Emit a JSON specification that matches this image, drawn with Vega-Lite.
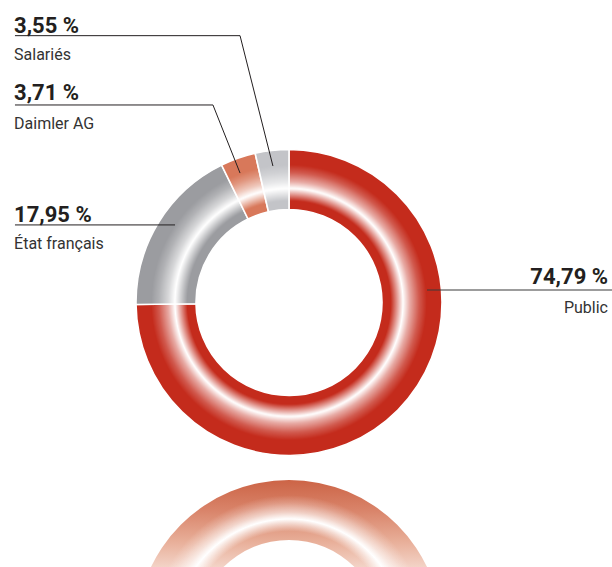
{
  "$schema": "https://vega.github.io/schema/vega-lite/v6.json",
  "width": 612,
  "height": 567,
  "padding": 0,
  "autosize": {"type": "none"},
  "config": {
    "view": {"stroke": null},
    "text": {"font": "Roboto"},
    "locale": {"number": {"decimal": ",", "thousands": "\u00a0", "grouping": [3], "currency": ["", "\u00a0€"], "percent": "\u00a0%"}}
  },
  "data": {"values": [
    {"label": "Public", "share": 0.7479},
    {"label": "État français", "share": 0.1795},
    {"label": "Daimler AG", "share": 0.0371},
    {"label": "Salariés", "share": 0.0355}
  ]},
  "layer": [
    {
      "mark": {"type": "arc", "outerRadius": 153, "innerRadius": 93, "stroke": "white", "strokeWidth": 1.6},
      "encoding": {
        "x": {"datum": 0, "type": "quantitative", "scale": {"domain": [-1.8889, 2.1111], "nice": false, "zero": false}, "axis": null},
        "y": {"datum": 0, "type": "quantitative", "scale": {"domain": [-1.7288, 1.9771], "nice": false, "zero": false}, "axis": null},
        "theta": {"field": "share", "type": "quantitative", "stack": true},
        "order": {"field": "share", "sort": "descending"},
        "color": {"field": "label", "type": "nominal", "legend": null,
          "scale": {"domain": ["Public", "État français", "Daimler AG", "Salariés"], "range": ["#c42b1c", "#9b9ca0", "#d8785a", "#c3c4c8"]}}
      }
    },
    {
      "mark": {"type": "arc", "outerRadius": 153, "innerRadius": 93,
        "fill": {"gradient": "radial", "x1": 0.5, "y1": 0.5, "r1": 0, "x2": 0.5, "y2": 0.5, "r2": 0.5,
          "stops": [
            {"offset": 0, "color": "rgba(255,255,255,0)"},
            {"offset": 0.665, "color": "rgba(255,255,255,0)"},
            {"offset": 0.745, "color": "rgba(255,255,255,1)"},
            {"offset": 0.79, "color": "rgba(255,255,255,0.6)"},
            {"offset": 0.85, "color": "rgba(255,255,255,0.22)"},
            {"offset": 0.9, "color": "rgba(255,255,255,0)"},
            {"offset": 1, "color": "rgba(255,255,255,0)"}
          ]}},
      "encoding": {
        "x": {"datum": 0, "type": "quantitative", "scale": {"domain": [-1.8889, 2.1111], "nice": false, "zero": false}, "axis": null},
        "y": {"datum": 0, "type": "quantitative", "scale": {"domain": [-1.7288, 1.9771], "nice": false, "zero": false}, "axis": null},
        "theta": {"aggregate": "sum", "field": "share", "type": "quantitative"}
      }
    },
    {
      "mark": {"type": "arc", "outerRadius": 153, "innerRadius": 93,
        "fill": {"gradient": "linear", "x1": 0, "y1": 0, "x2": 0, "y2": 1,
          "stops": [
            {"offset": 0, "color": "#cc6446"},
            {"offset": 0.1, "color": "#d9846a"},
            {"offset": 0.2, "color": "#e8ae98"},
            {"offset": 0.3, "color": "#f5dacf"},
            {"offset": 0.45, "color": "#ffffff"},
            {"offset": 1, "color": "#ffffff"}
          ]}},
      "encoding": {
        "x": {"datum": 0, "type": "quantitative", "scale": {"domain": [-1.8889, 2.1111], "nice": false, "zero": false}, "axis": null},
        "y": {"datum": -2.16, "type": "quantitative", "scale": {"domain": [-1.7288, 1.9771], "nice": false, "zero": false}, "axis": null},
        "theta": {"aggregate": "sum", "field": "share", "type": "quantitative"}
      }
    },
    {
      "mark": {"type": "arc", "outerRadius": 153, "innerRadius": 93,
        "fill": {"gradient": "radial", "x1": 0.5, "y1": 0.5, "r1": 0, "x2": 0.5, "y2": 0.5, "r2": 0.5,
          "stops": [
            {"offset": 0, "color": "rgba(255,255,255,0)"},
            {"offset": 0.665, "color": "rgba(255,255,255,0)"},
            {"offset": 0.745, "color": "rgba(255,255,255,1)"},
            {"offset": 0.79, "color": "rgba(255,255,255,0.6)"},
            {"offset": 0.85, "color": "rgba(255,255,255,0.22)"},
            {"offset": 0.9, "color": "rgba(255,255,255,0)"},
            {"offset": 1, "color": "rgba(255,255,255,0)"}
          ]}},
      "encoding": {
        "x": {"datum": 0, "type": "quantitative", "scale": {"domain": [-1.8889, 2.1111], "nice": false, "zero": false}, "axis": null},
        "y": {"datum": -2.16, "type": "quantitative", "scale": {"domain": [-1.7288, 1.9771], "nice": false, "zero": false}, "axis": null},
        "theta": {"aggregate": "sum", "field": "share", "type": "quantitative"}
      }
    },
    {
      "transform": [{"filter": "datum.label === 'Salariés'"}],
      "mark": {"type": "rule", "color": "#231f20", "strokeWidth": 1},
      "encoding": {
        "x": {"datum": -1.791, "type": "quantitative", "scale": {"domain": [-1.8889, 2.1111], "nice": false, "zero": false}, "axis": null},
        "y": {"datum": 1.744, "type": "quantitative", "scale": {"domain": [-1.7288, 1.9771], "nice": false, "zero": false}, "axis": null},
        "x2": {"datum": -0.32},
        "y2": {"datum": 1.744}
      }
    },
    {
      "transform": [{"filter": "datum.label === 'Salariés'"}],
      "mark": {"type": "rule", "color": "#231f20", "strokeWidth": 1},
      "encoding": {
        "x": {"datum": -0.32, "type": "quantitative", "scale": {"domain": [-1.8889, 2.1111], "nice": false, "zero": false}, "axis": null},
        "y": {"datum": 1.744, "type": "quantitative", "scale": {"domain": [-1.7288, 1.9771], "nice": false, "zero": false}, "axis": null},
        "x2": {"datum": -0.105},
        "y2": {"datum": 0.892}
      }
    },
    {
      "transform": [{"filter": "datum.label === 'Daimler AG'"}],
      "mark": {"type": "rule", "color": "#231f20", "strokeWidth": 1},
      "encoding": {
        "x": {"datum": -1.791, "type": "quantitative", "scale": {"domain": [-1.8889, 2.1111], "nice": false, "zero": false}, "axis": null},
        "y": {"datum": 1.291, "type": "quantitative", "scale": {"domain": [-1.7288, 1.9771], "nice": false, "zero": false}, "axis": null},
        "x2": {"datum": -0.497},
        "y2": {"datum": 1.291}
      }
    },
    {
      "transform": [{"filter": "datum.label === 'Daimler AG'"}],
      "mark": {"type": "rule", "color": "#231f20", "strokeWidth": 1},
      "encoding": {
        "x": {"datum": -0.497, "type": "quantitative", "scale": {"domain": [-1.8889, 2.1111], "nice": false, "zero": false}, "axis": null},
        "y": {"datum": 1.291, "type": "quantitative", "scale": {"domain": [-1.7288, 1.9771], "nice": false, "zero": false}, "axis": null},
        "x2": {"datum": -0.32},
        "y2": {"datum": 0.846}
      }
    },
    {
      "transform": [{"filter": "datum.label === 'État français'"}],
      "mark": {"type": "rule", "color": "#231f20", "strokeWidth": 1},
      "encoding": {
        "x": {"datum": -1.791, "type": "quantitative", "scale": {"domain": [-1.8889, 2.1111], "nice": false, "zero": false}, "axis": null},
        "y": {"datum": 0.507, "type": "quantitative", "scale": {"domain": [-1.7288, 1.9771], "nice": false, "zero": false}, "axis": null},
        "x2": {"datum": -0.745},
        "y2": {"datum": 0.507}
      }
    },
    {
      "transform": [{"filter": "datum.label === 'Public'"}],
      "mark": {"type": "rule", "color": "#3a3a3a", "strokeWidth": 1.2},
      "encoding": {
        "x": {"datum": 0.902, "type": "quantitative", "scale": {"domain": [-1.8889, 2.1111], "nice": false, "zero": false}, "axis": null},
        "y": {"datum": 0.0817, "type": "quantitative", "scale": {"domain": [-1.7288, 1.9771], "nice": false, "zero": false}, "axis": null},
        "x2": {"datum": 2.111},
        "y2": {"datum": 0.0817}
      }
    },
    {
      "transform": [{"filter": "datum.label === 'Salariés'"}],
      "mark": {"type": "text", "align": "left", "baseline": "alphabetic", "font": "Roboto", "fontWeight": "bold", "fontSize": 22, "color": "#231f20"},
      "encoding": {
        "x": {"datum": -1.797, "type": "quantitative", "scale": {"domain": [-1.8889, 2.1111], "nice": false, "zero": false}, "axis": null},
        "y": {"datum": 1.7614, "type": "quantitative", "scale": {"domain": [-1.7288, 1.9771], "nice": false, "zero": false}, "axis": null},
        "text": {"field": "share", "type": "quantitative", "format": ".2%"}
      }
    },
    {
      "transform": [{"filter": "datum.label === 'Salariés'"}],
      "mark": {"type": "text", "align": "left", "baseline": "alphabetic", "font": "Roboto", "fontSize": 16, "color": "#333333"},
      "encoding": {
        "x": {"datum": -1.797, "type": "quantitative", "scale": {"domain": [-1.8889, 2.1111], "nice": false, "zero": false}, "axis": null},
        "y": {"datum": 1.585, "type": "quantitative", "scale": {"domain": [-1.7288, 1.9771], "nice": false, "zero": false}, "axis": null},
        "text": {"field": "label", "type": "nominal"}
      }
    },
    {
      "transform": [{"filter": "datum.label === 'Daimler AG'"}],
      "mark": {"type": "text", "align": "left", "baseline": "alphabetic", "font": "Roboto", "fontWeight": "bold", "fontSize": 22, "color": "#231f20"},
      "encoding": {
        "x": {"datum": -1.797, "type": "quantitative", "scale": {"domain": [-1.8889, 2.1111], "nice": false, "zero": false}, "axis": null},
        "y": {"datum": 1.3235, "type": "quantitative", "scale": {"domain": [-1.7288, 1.9771], "nice": false, "zero": false}, "axis": null},
        "text": {"field": "share", "type": "quantitative", "format": ".2%"}
      }
    },
    {
      "transform": [{"filter": "datum.label === 'Daimler AG'"}],
      "mark": {"type": "text", "align": "left", "baseline": "alphabetic", "font": "Roboto", "fontSize": 16, "color": "#333333"},
      "encoding": {
        "x": {"datum": -1.797, "type": "quantitative", "scale": {"domain": [-1.8889, 2.1111], "nice": false, "zero": false}, "axis": null},
        "y": {"datum": 1.134, "type": "quantitative", "scale": {"domain": [-1.7288, 1.9771], "nice": false, "zero": false}, "axis": null},
        "text": {"field": "label", "type": "nominal"}
      }
    },
    {
      "transform": [{"filter": "datum.label === 'État français'"}],
      "mark": {"type": "text", "align": "left", "baseline": "alphabetic", "font": "Roboto", "fontWeight": "bold", "fontSize": 22, "color": "#231f20"},
      "encoding": {
        "x": {"datum": -1.797, "type": "quantitative", "scale": {"domain": [-1.8889, 2.1111], "nice": false, "zero": false}, "axis": null},
        "y": {"datum": 0.5261, "type": "quantitative", "scale": {"domain": [-1.7288, 1.9771], "nice": false, "zero": false}, "axis": null},
        "text": {"field": "share", "type": "quantitative", "format": ".2%"}
      }
    },
    {
      "transform": [{"filter": "datum.label === 'État français'"}],
      "mark": {"type": "text", "align": "left", "baseline": "alphabetic", "font": "Roboto", "fontSize": 16, "color": "#333333"},
      "encoding": {
        "x": {"datum": -1.797, "type": "quantitative", "scale": {"domain": [-1.8889, 2.1111], "nice": false, "zero": false}, "axis": null},
        "y": {"datum": 0.3497, "type": "quantitative", "scale": {"domain": [-1.7288, 1.9771], "nice": false, "zero": false}, "axis": null},
        "text": {"field": "label", "type": "nominal"}
      }
    },
    {
      "transform": [{"filter": "datum.label === 'Public'"}],
      "mark": {"type": "text", "align": "right", "baseline": "alphabetic", "font": "Roboto", "fontWeight": "bold", "fontSize": 22, "color": "#231f20"},
      "encoding": {
        "x": {"datum": 2.085, "type": "quantitative", "scale": {"domain": [-1.8889, 2.1111], "nice": false, "zero": false}, "axis": null},
        "y": {"datum": 0.1209, "type": "quantitative", "scale": {"domain": [-1.7288, 1.9771], "nice": false, "zero": false}, "axis": null},
        "text": {"field": "share", "type": "quantitative", "format": ".2%"}
      }
    },
    {
      "transform": [{"filter": "datum.label === 'Public'"}],
      "mark": {"type": "text", "align": "right", "baseline": "alphabetic", "font": "Roboto", "fontSize": 16, "color": "#333333"},
      "encoding": {
        "x": {"datum": 2.085, "type": "quantitative", "scale": {"domain": [-1.8889, 2.1111], "nice": false, "zero": false}, "axis": null},
        "y": {"datum": -0.068, "type": "quantitative", "scale": {"domain": [-1.7288, 1.9771], "nice": false, "zero": false}, "axis": null},
        "text": {"field": "label", "type": "nominal"}
      }
    }
  ]
}
